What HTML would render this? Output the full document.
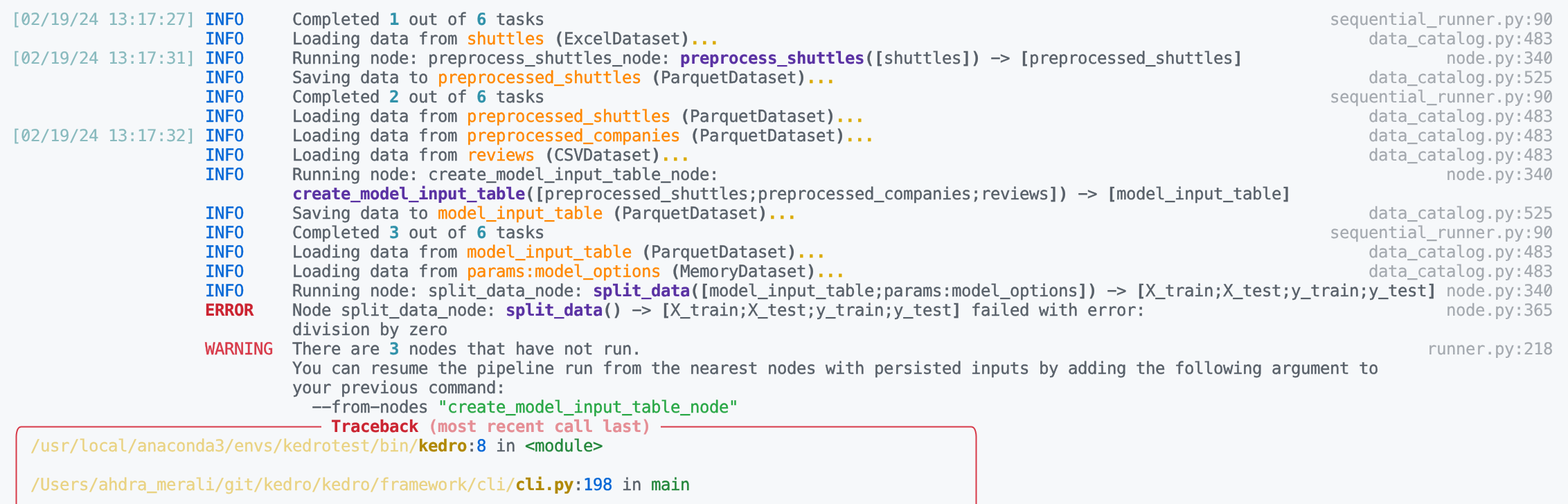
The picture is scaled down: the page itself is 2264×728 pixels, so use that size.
<!DOCTYPE html>
<html lang="en"><head><meta charset="utf-8"><title>kedro run output</title>
<style>
html,body{margin:0;padding:0;}
body{background:#f6f8fa;width:2264px;height:728px;overflow:hidden;position:relative;}
#term{position:absolute;left:16px;top:14px;width:2226px;margin:0;font-family:"DejaVu Sans Mono","Liberation Mono",monospace;font-size:24px;line-height:28px;letter-spacing:-0.4492px;color:#586069;font-variant-ligatures:none;font-kerning:none;text-rendering:geometricPrecision;-webkit-text-stroke:0.4px currentColor;will-change:transform;}
.row{position:relative;height:28px;}
.row>span{position:absolute;top:0;white-space:pre;}
.time{left:0;color:#89babe}
.lvl{left:280px}
.msg{left:406px}
.path{right:0;color:#a4a9af}
.title{left:462px}
.frame{left:28px}
.info{color:#0366d6}
.err{color:#cb2431;font-weight:bold}
.warn{color:#d73a49}
.k{font-weight:bold}
.n{color:#3192aa;font-weight:bold}
.o{color:#ff8700}
.d{color:#dbab09;font-weight:bold}
.p{color:#5a32a3;font-weight:bold}
.s{color:#28a745}
.tb{color:#cb2431;font-weight:bold}
.td{color:#e58e95;font-weight:bold}
.yd{color:#e9d282}
.yb{color:#b08800;font-weight:bold}
.b{color:#0366d6}
.f{color:#22863a}
.k,.n,.d,.p,.err,.tb,.td,.yb,.time{-webkit-text-stroke-width:0.2px}
.path{-webkit-text-stroke-width:0.2px}
.d{-webkit-text-stroke-width:0.5px}
.yd{-webkit-text-stroke-width:0.3px}
#deco{position:absolute;left:0;top:0;}
</style></head>
<body>
<div id="term">
<div class="row"><span class="time">[02/19/24 13:17:27]</span> <span class="lvl info">INFO</span> <span class="msg">Completed <span class="n">1</span> out of <span class="n">6</span> tasks</span> <span class="path">sequential_runner.py:90</span></div>
<div class="row"><span class="lvl info">INFO</span> <span class="msg">Loading data from <span class="o">shuttles</span> <span class="k">(</span>ExcelDataset<span class="k">)</span><span class="d">...</span></span> <span class="path">data_catalog.py:483</span></div>
<div class="row"><span class="time">[02/19/24 13:17:31]</span> <span class="lvl info">INFO</span> <span class="msg">Running node: preprocess_shuttles_node: <span class="p">preprocess_shuttles</span><span class="k">([</span>shuttles<span class="k">])</span> -&gt; <span class="k">[</span>preprocessed_shuttles<span class="k">]</span></span> <span class="path">node.py:340</span></div>
<div class="row"><span class="lvl info">INFO</span> <span class="msg">Saving data to <span class="o">preprocessed_shuttles</span> <span class="k">(</span>ParquetDataset<span class="k">)</span><span class="d">...</span></span> <span class="path">data_catalog.py:525</span></div>
<div class="row"><span class="lvl info">INFO</span> <span class="msg">Completed <span class="n">2</span> out of <span class="n">6</span> tasks</span> <span class="path">sequential_runner.py:90</span></div>
<div class="row"><span class="lvl info">INFO</span> <span class="msg">Loading data from <span class="o">preprocessed_shuttles</span> <span class="k">(</span>ParquetDataset<span class="k">)</span><span class="d">...</span></span> <span class="path">data_catalog.py:483</span></div>
<div class="row"><span class="time">[02/19/24 13:17:32]</span> <span class="lvl info">INFO</span> <span class="msg">Loading data from <span class="o">preprocessed_companies</span> <span class="k">(</span>ParquetDataset<span class="k">)</span><span class="d">...</span></span> <span class="path">data_catalog.py:483</span></div>
<div class="row"><span class="lvl info">INFO</span> <span class="msg">Loading data from <span class="o">reviews</span> <span class="k">(</span>CSVDataset<span class="k">)</span><span class="d">...</span></span> <span class="path">data_catalog.py:483</span></div>
<div class="row"><span class="lvl info">INFO</span> <span class="msg">Running node: create_model_input_table_node:</span> <span class="path">node.py:340</span></div>
<div class="row"><span class="msg"><span class="p">create_model_input_table</span><span class="k">([</span>preprocessed_shuttles;preprocessed_companies;reviews<span class="k">])</span> -&gt; <span class="k">[</span>model_input_table<span class="k">]</span></span></div>
<div class="row"><span class="lvl info">INFO</span> <span class="msg">Saving data to <span class="o">model_input_table</span> <span class="k">(</span>ParquetDataset<span class="k">)</span><span class="d">...</span></span> <span class="path">data_catalog.py:525</span></div>
<div class="row"><span class="lvl info">INFO</span> <span class="msg">Completed <span class="n">3</span> out of <span class="n">6</span> tasks</span> <span class="path">sequential_runner.py:90</span></div>
<div class="row"><span class="lvl info">INFO</span> <span class="msg">Loading data from <span class="o">model_input_table</span> <span class="k">(</span>ParquetDataset<span class="k">)</span><span class="d">...</span></span> <span class="path">data_catalog.py:483</span></div>
<div class="row"><span class="lvl info">INFO</span> <span class="msg">Loading data from <span class="o">params:model_options</span> <span class="k">(</span>MemoryDataset<span class="k">)</span><span class="d">...</span></span> <span class="path">data_catalog.py:483</span></div>
<div class="row"><span class="lvl info">INFO</span> <span class="msg">Running node: split_data_node: <span class="p">split_data</span><span class="k">([</span>model_input_table;params:model_options<span class="k">])</span> -&gt; <span class="k">[</span>X_train;X_test;y_train;y_test<span class="k">]</span></span> <span class="path">node.py:340</span></div>
<div class="row"><span class="lvl err">ERROR</span> <span class="msg">Node split_data_node: <span class="p">split_data</span><span class="k">()</span> -&gt; <span class="k">[</span>X_train;X_test;y_train;y_test<span class="k">]</span> failed with error:</span> <span class="path">node.py:365</span></div>
<div class="row"><span class="msg">division by zero</span></div>
<div class="row"><span class="lvl warn">WARNING</span> <span class="msg">There are <span class="n">3</span> nodes that have not run.</span> <span class="path">runner.py:218</span></div>
<div class="row"><span class="msg">You can resume the pipeline run from the nearest nodes with persisted inputs by adding the following argument to</span></div>
<div class="row"><span class="msg">your previous command:</span></div>
<div class="row"><span class="msg">  --from-nodes <span class="s">"create_model_input_table_node"</span></span></div>
<div class="row"><span class="title"><span class="tb">Traceback</span> <span class="td">(most recent call last)</span></span></div>
<div class="row"><span class="frame"><span class="yd">/usr/local/anaconda3/envs/kedrotest/bin/</span><span class="yb">kedro</span>:<span class="b">8</span> in <span class="f">&lt;module&gt;</span></span></div>
<div class="row"></div>
<div class="row"><span class="frame"><span class="yd">/Users/ahdra_merali/git/kedro/kedro/framework/cli/</span><span class="yb">cli.py</span>:<span class="b">198</span> in <span class="f">main</span></span></div>
<div class="row"></div>
</div>
<svg id="deco" width="2264" height="728" viewBox="0 0 2264 728" aria-hidden="true">
<path fill="#f6f8fa" d="M2059.1,38.4h16.2v4.8h-16.2zM2031.1,66.4h16.2v4.8h-16.2zM757.1,94.4h16.2v4.8h-16.2zM883.1,94.4h16.2v4.8h-16.2zM1121.1,94.4h16.2v4.8h-16.2zM1432.8,82.8h9.4v4.4h-9.4zM1653.1,94.4h16.2v4.8h-16.2zM799.1,122.4h16.2v4.8h-16.2zM2031.1,122.4h16.2v4.8h-16.2zM2059.1,150.4h16.2v4.8h-16.2zM841.1,178.4h16.2v4.8h-16.2zM2031.1,178.4h16.2v4.8h-16.2zM841.1,206.4h16.2v4.8h-16.2zM2031.1,206.4h16.2v4.8h-16.2zM2031.1,234.4h16.2v4.8h-16.2zM701.1,262.4h16.2v4.8h-16.2zM785.1,262.4h16.2v4.8h-16.2zM869.1,262.4h16.2v4.8h-16.2zM953.1,262.4h16.2v4.8h-16.2zM505.1,290.4h16.2v4.8h-16.2zM589.1,290.4h16.2v4.8h-16.2zM673.1,290.4h16.2v4.8h-16.2zM953.1,290.4h16.2v4.8h-16.2zM1261.1,290.4h16.2v4.8h-16.2zM1558.8,278.8h9.4v4.4h-9.4zM1681.1,290.4h16.2v4.8h-16.2zM1765.1,290.4h16.2v4.8h-16.2zM701.1,318.4h16.2v4.8h-16.2zM785.1,318.4h16.2v4.8h-16.2zM2031.1,318.4h16.2v4.8h-16.2zM2059.1,346.4h16.2v4.8h-16.2zM743.1,374.4h16.2v4.8h-16.2zM827.1,374.4h16.2v4.8h-16.2zM2031.1,374.4h16.2v4.8h-16.2zM841.1,402.4h16.2v4.8h-16.2zM2031.1,402.4h16.2v4.8h-16.2zM687.1,430.4h16.2v4.8h-16.2zM757.1,430.4h16.2v4.8h-16.2zM925.1,430.4h16.2v4.8h-16.2zM1093.1,430.4h16.2v4.8h-16.2zM1177.1,430.4h16.2v4.8h-16.2zM1443.1,430.4h16.2v4.8h-16.2zM1600.8,418.8h9.4v4.4h-9.4zM1667.1,430.4h16.2v4.8h-16.2zM1779.1,430.4h16.2v4.8h-16.2zM1877.1,430.4h16.2v4.8h-16.2zM1989.1,430.4h16.2v4.8h-16.2zM561.1,458.4h16.2v4.8h-16.2zM631.1,458.4h16.2v4.8h-16.2zM799.1,458.4h16.2v4.8h-16.2zM914.8,446.8h9.4v4.4h-9.4zM981.1,458.4h16.2v4.8h-16.2zM1093.1,458.4h16.2v4.8h-16.2zM1191.1,458.4h16.2v4.8h-16.2zM1303.1,458.4h16.2v4.8h-16.2zM452.8,586.8h9.4v4.4h-9.4zM466.8,586.8h9.4v4.4h-9.4zM536.8,586.8h9.4v4.4h-9.4zM729.1,598.4h16.2v4.8h-16.2zM813.1,598.4h16.2v4.8h-16.2zM897.1,598.4h16.2v4.8h-16.2zM981.1,598.4h16.2v4.8h-16.2zM211.1,710.4h16.2v4.8h-16.2z"/>
<path fill="#a4a9af" d="M2060.1,37.95h14.5v2.4h-14.5zM2032.1,65.95h14.5v2.4h-14.5zM2032.1,121.95h14.5v2.4h-14.5zM2060.1,149.95h14.5v2.4h-14.5zM2032.1,177.95h14.5v2.4h-14.5zM2032.1,205.95h14.5v2.4h-14.5zM2032.1,233.95h14.5v2.4h-14.5zM2032.1,317.95h14.5v2.4h-14.5zM2060.1,345.95h14.5v2.4h-14.5zM2032.1,373.95h14.5v2.4h-14.5zM2032.1,401.95h14.5v2.4h-14.5z"/>
<path fill="#586069" d="M758.1,93.95h14.5v2.4h-14.5zM884.1,93.95h14.5v2.4h-14.5zM1431.2,83.05h12.6v2.5h-12.6zM1654.1,93.95h14.5v2.4h-14.5zM702.1,261.95h14.5v2.4h-14.5zM786.1,261.95h14.5v2.4h-14.5zM870.1,261.95h14.5v2.4h-14.5zM954.1,261.95h14.5v2.4h-14.5zM954.1,289.95h14.5v2.4h-14.5zM1262.1,289.95h14.5v2.4h-14.5zM1557.2,279.05h12.6v2.5h-12.6zM1682.1,289.95h14.5v2.4h-14.5zM1766.1,289.95h14.5v2.4h-14.5zM688.1,429.95h14.5v2.4h-14.5zM758.1,429.95h14.5v2.4h-14.5zM1094.1,429.95h14.5v2.4h-14.5zM1178.1,429.95h14.5v2.4h-14.5zM1444.1,429.95h14.5v2.4h-14.5zM1599.2,419.05h12.6v2.5h-12.6zM1668.1,429.95h14.5v2.4h-14.5zM1780.1,429.95h14.5v2.4h-14.5zM1878.1,429.95h14.5v2.4h-14.5zM1990.1,429.95h14.5v2.4h-14.5zM562.1,457.95h14.5v2.4h-14.5zM632.1,457.95h14.5v2.4h-14.5zM913.2,447.05h12.6v2.5h-12.6zM982.1,457.95h14.5v2.4h-14.5zM1094.1,457.95h14.5v2.4h-14.5zM1192.1,457.95h14.5v2.4h-14.5zM1304.1,457.95h14.5v2.4h-14.5zM451.2,587.05h12.6v2.5h-12.6zM465.2,587.05h12.6v2.5h-12.6zM535.2,587.05h12.6v2.5h-12.6z"/>
<path fill="#5a32a3" d="M1122.1,93.95h14.5v2.4h-14.5zM506.1,289.95h14.5v2.4h-14.5zM590.1,289.95h14.5v2.4h-14.5zM674.1,289.95h14.5v2.4h-14.5zM926.1,429.95h14.5v2.4h-14.5zM800.1,457.95h14.5v2.4h-14.5z"/>
<path fill="#ff8700" d="M800.1,121.95h14.5v2.4h-14.5zM842.1,177.95h14.5v2.4h-14.5zM842.1,205.95h14.5v2.4h-14.5zM702.1,317.95h14.5v2.4h-14.5zM786.1,317.95h14.5v2.4h-14.5zM744.1,373.95h14.5v2.4h-14.5zM828.1,373.95h14.5v2.4h-14.5zM842.1,401.95h14.5v2.4h-14.5z"/>
<path fill="#28a745" d="M730.1,597.95h14.5v2.4h-14.5zM814.1,597.95h14.5v2.4h-14.5zM898.1,597.95h14.5v2.4h-14.5zM982.1,597.95h14.5v2.4h-14.5z"/>
<path fill="#e9d282" d="M212.1,709.95h14.5v2.4h-14.5z"/>
<g fill="#f6f8fa"><ellipse cx="37" cy="27.1" rx="2.3" ry="2.6"/><ellipse cx="2235" cy="27.1" rx="2.3" ry="2.6"/><ellipse cx="37" cy="83.1" rx="2.3" ry="2.6"/><ellipse cx="2235" cy="83.1" rx="2.3" ry="2.6"/><ellipse cx="2235" cy="139.1" rx="2.3" ry="2.6"/><ellipse cx="37" cy="195.1" rx="2.3" ry="2.6"/><ellipse cx="2235" cy="251.1" rx="2.3" ry="2.6"/><ellipse cx="2235" cy="335.1" rx="2.3" ry="2.6"/><ellipse cx="2235" cy="419.1" rx="2.3" ry="2.6"/></g>
<path fill="none" stroke="#89babe" stroke-width="2.1" d="M34.25,31.1L39.85,22M34.25,87.1L39.85,78M34.25,199.1L39.85,190"/>
<path fill="none" stroke="#a4a9af" stroke-width="2.1" d="M2232.25,31.1L2237.85,22M2232.25,87.1L2237.85,78M2232.25,143.1L2237.85,134M2232.25,255.1L2237.85,246M2232.25,339.1L2237.85,330M2232.25,423.1L2237.85,414"/>
<g fill="none" stroke="#d73a49" stroke-width="2">
<path d="M23.5,740 L23.5,630.5 C23.5,630.5 23.5,616.5 30.5,616.5 L464,616.5"/>
<path d="M954,616.5 L1402.5,616.5 C1409.5,616.5 1409.5,630.5 1409.5,630.5 L1409.5,740"/>
</g>
</svg>
</body></html>
